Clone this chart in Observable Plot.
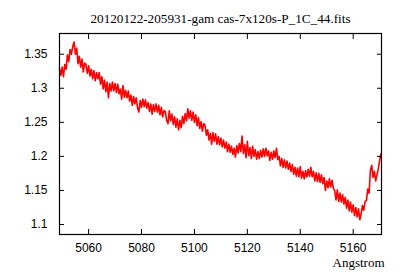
<!DOCTYPE html>
<html>
<head>
<meta charset="utf-8">
<script src="https://cdn.jsdelivr.net/npm/d3@7"></script>
<script src="https://cdn.jsdelivr.net/npm/@observablehq/plot@0.6"></script>
<style>
  html, body { margin: 0; padding: 0; background: #fff; }
</style>
</head>
<body>
<div id="chart"></div>
<script>
const chartTitle = "20120122-205931-gam cas-7x120s-P_1C_44.fits";
const xLabel = "Angstrom";

const wavelength = [
  5049,5049.5,5050,5050.5,5051,5051.5,5052,5052.5,5053,5053.5,
  5054,5054.5,5055,5055.5,5056,5056.5,5057,5057.5,5058,5058.5,
  5059,5059.5,5060,5060.5,5061,5061.5,5062,5062.5,5063,5063.5,
  5064,5064.5,5065,5065.5,5066,5066.5,5067,5067.5,5068,5068.5,
  5069,5069.5,5070,5070.5,5071,5071.5,5072,5072.5,5073,5073.5,
  5074,5074.5,5075,5075.5,5076,5076.5,5077,5077.5,5078,5078.5,
  5079,5079.5,5080,5080.5,5081,5081.5,5082,5082.5,5083,5083.5,
  5084,5084.5,5085,5085.5,5086,5086.5,5087,5087.5,5088,5088.5,
  5089,5089.5,5090,5090.5,5091,5091.5,5092,5092.5,5093,5093.5,
  5094,5094.5,5095,5095.5,5096,5096.5,5097,5097.5,5098,5098.5,
  5099,5099.5,5100,5100.5,5101,5101.5,5102,5102.5,5103,5103.5,
  5104,5104.5,5105,5105.5,5106,5106.5,5107,5107.5,5108,5108.5,
  5109,5109.5,5110,5110.5,5111,5111.5,5112,5112.5,5113,5113.5,
  5114,5114.5,5115,5115.5,5116,5116.5,5117,5117.5,5118,5118.5,
  5119,5119.5,5120,5120.5,5121,5121.5,5122,5122.5,5123,5123.5,
  5124,5124.5,5125,5125.5,5126,5126.5,5127,5127.5,5128,5128.5,
  5129,5129.5,5130,5130.5,5131,5131.5,5132,5132.5,5133,5133.5,
  5134,5134.5,5135,5135.5,5136,5136.5,5137,5137.5,5138,5138.5,
  5139,5139.5,5140,5140.5,5141,5141.5,5142,5142.5,5143,5143.5,
  5144,5144.5,5145,5145.5,5146,5146.5,5147,5147.5,5148,5148.5,
  5149,5149.5,5150,5150.5,5151,5151.5,5152,5152.5,5153,5153.5,
  5154,5154.5,5155,5155.5,5156,5156.5,5157,5157.5,5158,5158.5,
  5159,5159.5,5160,5160.5,5161,5161.5,5162,5162.5,5163,5163.5,
  5164,5164.5,5165,5165.5,5166,5166.5,5167,5167.5,5168,5168.5,
  5169,5169.5,5170,5170.5
];

const flux = [
  1.329,1.319,1.331,1.317,1.335,1.328,1.349,1.339,1.357,1.350,
  1.361,1.368,1.350,1.359,1.336,1.347,1.331,1.343,1.324,1.337,
  1.335,1.322,1.333,1.318,1.328,1.314,1.326,1.311,1.323,1.314,
  1.323,1.306,1.317,1.299,1.312,1.295,1.309,1.286,1.307,1.296,
  1.309,1.296,1.307,1.294,1.306,1.292,1.299,1.284,1.304,1.287,
  1.297,1.286,1.296,1.281,1.290,1.275,1.288,1.277,1.286,1.271,
  1.265,1.282,1.272,1.284,1.273,1.283,1.271,1.279,1.266,1.277,
  1.262,1.276,1.266,1.277,1.265,1.275,1.261,1.272,1.258,1.267,
  1.266,1.253,1.248,1.267,1.252,1.262,1.247,1.258,1.243,1.255,
  1.239,1.253,1.242,1.259,1.248,1.263,1.252,1.270,1.256,1.267,
  1.253,1.265,1.250,1.261,1.245,1.257,1.241,1.251,1.237,1.248,
  1.246,1.231,1.239,1.224,1.234,1.218,1.235,1.222,1.233,1.218,
  1.229,1.217,1.227,1.214,1.224,1.212,1.221,1.207,1.218,1.206,
  1.215,1.203,1.212,1.199,1.216,1.205,1.219,1.207,1.230,1.204,
  1.217,1.198,1.222,1.201,1.213,1.197,1.215,1.200,1.210,1.196,
  1.207,1.197,1.209,1.199,1.211,1.200,1.212,1.201,1.208,1.194,
  1.206,1.196,1.208,1.198,1.212,1.195,1.200,1.186,1.197,1.184,
  1.195,1.183,1.193,1.181,1.190,1.178,1.188,1.174,1.184,1.171,
  1.183,1.170,1.185,1.168,1.178,1.167,1.179,1.170,1.181,1.171,
  1.184,1.170,1.178,1.164,1.176,1.163,1.175,1.162,1.173,1.160,
  1.169,1.150,1.164,1.154,1.167,1.155,1.165,1.153,1.150,1.136,
  1.151,1.134,1.146,1.133,1.144,1.130,1.140,1.124,1.136,1.120,
  1.133,1.118,1.129,1.113,1.125,1.111,1.123,1.107,1.116,1.128,
  1.121,1.134,1.135,1.152,1.146,1.179,1.187,1.169,1.178,1.164,
  1.173,1.182,1.194,1.204
];

const xTicks = [5060, 5080, 5100, 5120, 5140, 5160];
const yTicks = [1.1, 1.15, 1.2, 1.25, 1.3, 1.35];
const yTickLabels = ["1.1", "1.15", "1.2", "1.25", "1.3", "1.35"];

const data = wavelength.map((w, i) => ({w, f: flux[i]}));
const yLabelOf = new Map(yTicks.map((t, i) => [t, yTickLabels[i]]));

const sans = "'Liberation Sans', Arial, sans-serif";
const serif = "'Liberation Serif', 'Times New Roman', serif";

const chart = Plot.plot({
  width: 400,
  height: 280,
  marginLeft: 59,
  marginRight: 19,
  marginTop: 33,
  marginBottom: 46,
  style: {fontFamily: sans, fontSize: "12px", color: "#000", background: "#fff"},
  x: {domain: [5049, 5170.7]},
  y: {domain: [1.0853, 1.3804]},
  marks: [
    Plot.line(data, {x: "w", y: "f", stroke: "#ff0000", strokeWidth: 1.6}),
    Plot.frame({stroke: "#000", strokeWidth: 1.2}),
    Plot.axisX(xTicks, {anchor: "bottom", tickSize: -5, tickPadding: 14, tickFormat: d => String(d), label: null, stroke: "#000"}),
    Plot.axisX(xTicks, {anchor: "top", tickSize: -5, tickFormat: () => "", label: null, stroke: "#000"}),
    Plot.axisY(yTicks, {anchor: "left", tickSize: -5, tickPadding: 17, tickFormat: d => yLabelOf.get(d), label: null, stroke: "#000"}),
    Plot.axisY(yTicks, {anchor: "right", tickSize: -5, tickFormat: () => "", label: null, stroke: "#000"}),
    Plot.text([chartTitle], {frameAnchor: "top", dy: -15, lineAnchor: "middle", fontFamily: serif, fontSize: 13.2, fill: "#000"}),
    Plot.text([xLabel], {frameAnchor: "bottom-right", dx: 3, dy: 28, textAnchor: "end", lineAnchor: "middle", fontFamily: serif, fontSize: 13, fill: "#000"})
  ]
});
document.getElementById("chart").appendChild(chart);
</script>
</body>
</html>
